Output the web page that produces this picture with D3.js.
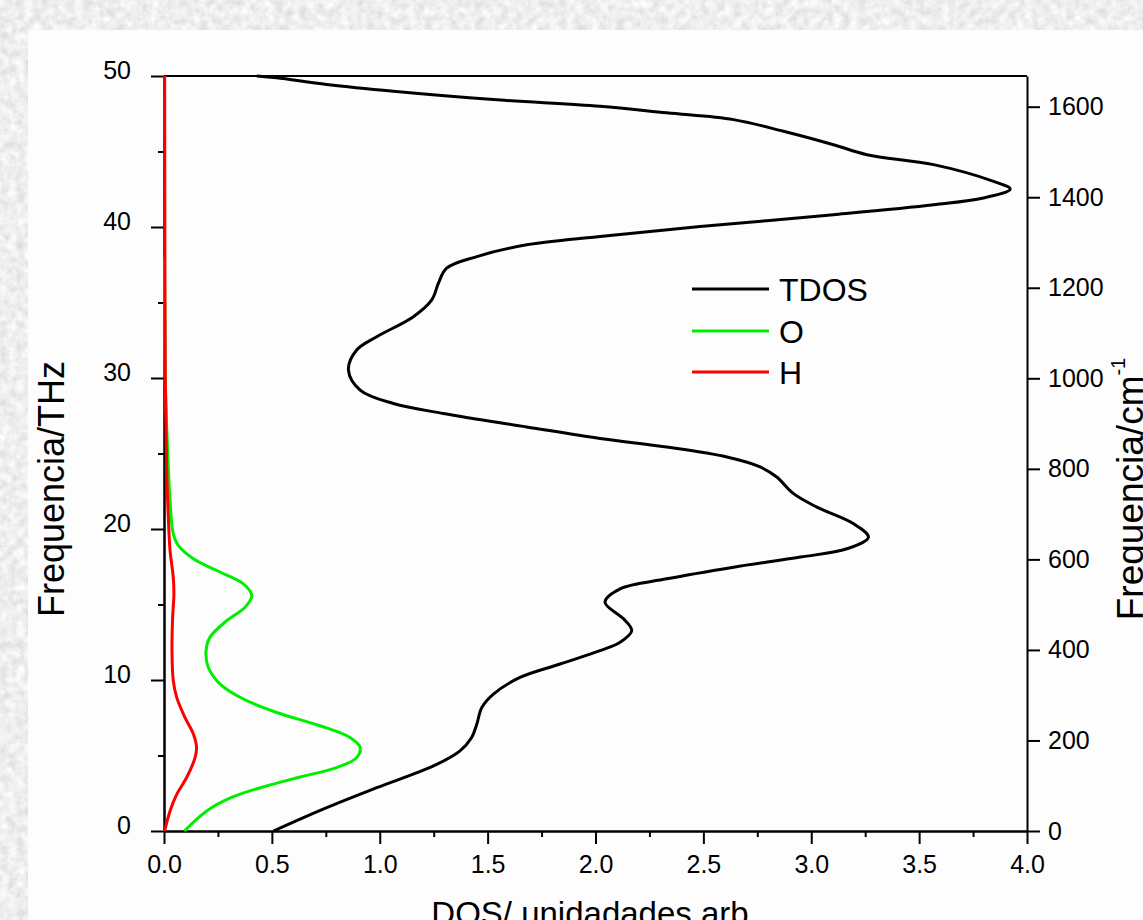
<!DOCTYPE html>
<html lang="pt">
<head>
<meta charset="UTF-8">
<title>DOS</title>
<script src="https://d3js.org/d3.v7.min.js"></script>
<style>
  html, body { margin: 0; padding: 0; background: #d6d6d6; }
  svg { display: block; font-family: Arial, "Liberation Sans", sans-serif; }
</style>
</head>
<body>
<svg id="chart" width="1143" height="920"></svg>
<script>
// frequency (THz) and DOS (arb. units)
const tdosFreq = [0, 1.55, 2.87, 4.31, 5.31, 6.19, 7.08, 8.18, 9.07, 10.17, 11.06, 11.94, 12.5, 13.27, 14.05, 15.15,
  16.04, 16.7, 17.47, 18.14, 18.69, 19.46, 20.35, 21.45, 22.34, 23.44, 24.11, 24.77, 25.43, 25.99, 26.76, 27.65,
  28.31, 29.2, 30.52, 31.85, 32.73, 34.06, 35.17, 36.28, 37.27, 38.04, 38.82, 39.37, 40.03, 40.81, 41.47, 41.92,
  42.51, 43.02, 44.13, 44.79, 45.45, 46.34, 47.11, 47.56, 48.0, 48.44, 48.99, 49.44, 49.88, 50];
const tdosVal = [0.507, 0.754, 0.986, 1.249, 1.372, 1.426, 1.45, 1.473, 1.527, 1.65, 1.836, 2.021, 2.114, 2.168, 2.13, 2.044,
  2.114, 2.33, 2.64, 2.95, 3.165, 3.265, 3.196, 3.026, 2.918, 2.84, 2.763, 2.609, 2.33, 2.021, 1.681, 1.295,
  1.063, 0.909, 0.855, 0.893, 0.986, 1.156, 1.241, 1.272, 1.31, 1.45, 1.681, 2.021, 2.485, 3.103, 3.567, 3.798,
  3.922, 3.845, 3.567, 3.258, 3.103, 2.871, 2.64, 2.33, 2.021, 1.527, 1.063, 0.754, 0.522, 0.43];

const oFreq = [0, 1.33, 2.21, 2.99, 3.58, 4.2, 4.86, 5.53, 6.19, 6.97, 7.85, 8.74, 9.73, 10.84, 11.94, 12.83, 13.93,
  14.82, 15.59, 16.37, 17.25, 18.03, 18.91, 19.69, 21.9, 24.1, 27, 30, 34, 38];
const oVal = [0.094, 0.198, 0.31, 0.476, 0.631, 0.8, 0.893, 0.909, 0.862, 0.723, 0.522, 0.368, 0.26, 0.205, 0.195, 0.213, 0.291,
  0.376, 0.407, 0.368, 0.244, 0.136, 0.066, 0.043, 0.028, 0.02, 0.012, 0.006, 0.004, 0.002];

const hFreq = [0, 1.33, 2.43, 3.54, 4.86, 5.53, 6.42, 7.52, 8.85, 9.95, 11.94, 14.15, 15.7, 16.8, 18.58, 20.8, 24.1, 30, 40, 50];
const hVal = [0.003, 0.028, 0.059, 0.105, 0.144, 0.151, 0.136, 0.097, 0.059, 0.043, 0.037, 0.04, 0.046, 0.043, 0.028, 0.02, 0.012, 0.006, 0.004, 0.003];

const seriesNames = ["TDOS", "O", "H"];
const seriesColors = ["#000000", "#00ee00", "#ff0000"];

const xTicks = [0, 0.5, 1.0, 1.5, 2.0, 2.5, 3.0, 3.5, 4.0];
const xMinor = [0.25, 0.75, 1.25, 1.75, 2.25, 2.75, 3.25, 3.75];
const yTicks = [0, 10, 20, 30, 40, 50];
const yMinor = [5, 15, 25, 35, 45];
const cmTicks = [0, 200, 400, 600, 800, 1000, 1200, 1400, 1600];
const THZ_TO_CM = 33.356;

const svg = d3.select("#chart");

// textured grey backdrop + white sheet
const defs = svg.append("defs");
const filt = defs.append("filter").attr("id", "marble").attr("x", 0).attr("y", 0).attr("width", 1).attr("height", 1);
filt.append("feTurbulence").attr("type", "fractalNoise").attr("baseFrequency", 0.12).attr("numOctaves", 3).attr("seed", 4);
filt.append("feColorMatrix").attr("type", "matrix")
    .attr("values", "0.4 0 0 0 0.66  0.4 0 0 0 0.66  0.4 0 0 0 0.66  0 0 0 0 1");
svg.append("rect").attr("width", 1143).attr("height", 920).attr("filter", "url(#marble)");
svg.append("rect").attr("x", 28).attr("y", 30).attr("width", 1115).attr("height", 890).attr("fill", "#fdfdfd");

const x = d3.scaleLinear().domain([0, 4]).range([164, 1027]);
const y = d3.scaleLinear().domain([0, 50]).range([831, 76]);
const yCm = d3.scaleLinear().domain([0, 50 * THZ_TO_CM]).range([831, 76]);

const tickFont = 25;

// bottom axis
svg.append("g").attr("transform", "translate(0,831)")
  .call(d3.axisBottom(x).tickValues(xTicks).tickFormat(d3.format(".1f")).tickSize(13).tickSizeOuter(0).tickPadding(11));
svg.append("g").attr("transform", "translate(0,831)")
  .call(d3.axisBottom(x).tickValues(xMinor).tickFormat("").tickSize(6).tickSizeOuter(0));

// left axis
const gy = svg.append("g").attr("transform", "translate(164,0)")
  .call(d3.axisLeft(y).tickValues(yTicks).tickSize(13).tickSizeOuter(0).tickPadding(20));
gy.selectAll("text").attr("dy", "0.08em");
svg.append("g").attr("transform", "translate(164,0)")
  .call(d3.axisLeft(y).tickValues(yMinor).tickFormat("").tickSize(6).tickSizeOuter(0));

// right axis in cm-1
svg.append("g").attr("transform", "translate(1027,0)")
  .call(d3.axisRight(yCm).tickValues(cmTicks).tickFormat(d3.format("d")).tickSize(13).tickSizeOuter(0).tickPadding(8));

// top frame line
svg.append("line").attr("x1", x(0)).attr("x2", x(4)).attr("y1", y(50)).attr("y2", y(50))
  .attr("stroke", "#000").attr("stroke-width", 2);

svg.selectAll(".domain, .tick line").attr("stroke", "#000").attr("stroke-width", 2);
svg.selectAll(".tick text").attr("font-size", tickFont).attr("fill", "#000")
  .style("font-family", "Arial, 'Liberation Sans', sans-serif");

// curves
const line = d3.line().x(d => x(d[1])).y(d => y(d[0])).curve(d3.curveCatmullRom.alpha(0.5));
const series = [
  d3.zip(tdosFreq, tdosVal),
  d3.zip(oFreq, oVal),
  d3.zip(hFreq, hVal)
];
svg.append("g").selectAll("path").data(series).join("path")
  .attr("d", line)
  .attr("fill", "none")
  .attr("stroke", (d, i) => seriesColors[i])
  .attr("stroke-width", 3)
  .attr("stroke-linejoin", "round");

// legend
const legendY = [289, 331, 372];
const lg = svg.append("g");
lg.selectAll("line").data(seriesNames).join("line")
  .attr("x1", 692).attr("x2", 769)
  .attr("y1", (d, i) => legendY[i]).attr("y2", (d, i) => legendY[i])
  .attr("stroke", (d, i) => seriesColors[i]).attr("stroke-width", 3);
lg.selectAll("text").data(seriesNames).join("text")
  .attr("x", 779).attr("y", (d, i) => legendY[i]).attr("dy", "0.36em")
  .attr("font-size", 32).text(d => d);

// axis titles
svg.append("text").attr("transform", "translate(64,489) rotate(-90)")
  .attr("text-anchor", "middle").attr("font-size", 36).text("Frequencia/THz");

const rt = svg.append("text").attr("transform", "translate(1143,489) rotate(-90)")
  .attr("text-anchor", "middle").attr("font-size", 37);
rt.append("tspan").text("Frequencia/cm");
rt.append("tspan").attr("font-size", 20).attr("dy", -18).text("-1");

svg.append("text").attr("x", 590).attr("y", 925).attr("text-anchor", "middle")
  .attr("font-size", 33).text("DOS/ unidadades arb");
</script>
</body>
</html>
